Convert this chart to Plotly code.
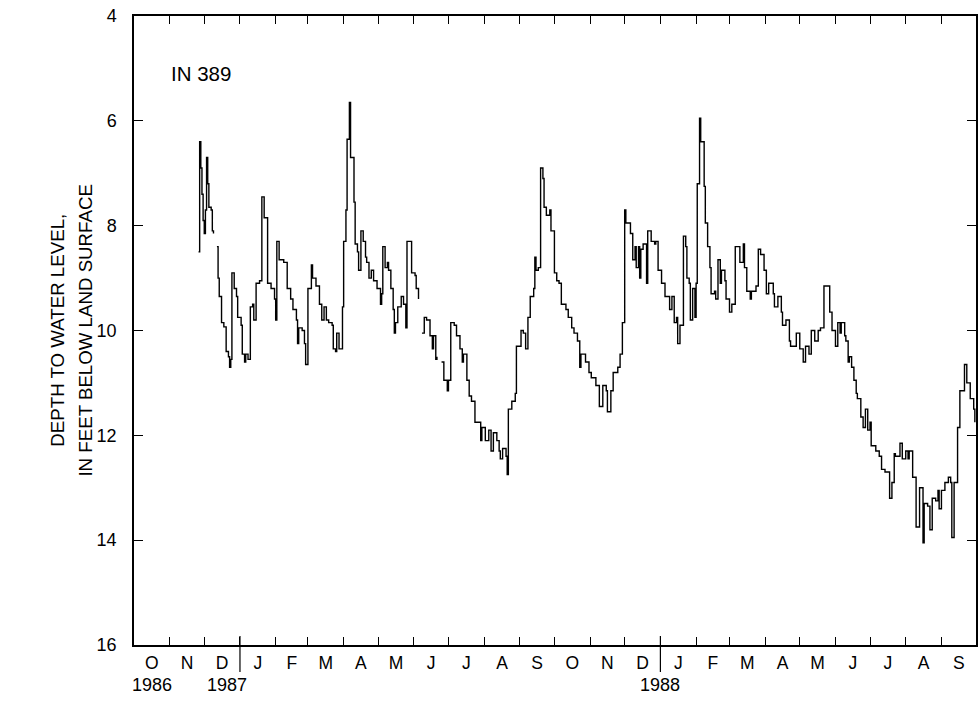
import pandas as pd
import plotly.graph_objects as go

obs_dates = [
    "1986-11-26", "1986-11-27", "1986-11-28", "1986-11-29", "1986-11-30",
    "1986-12-01", "1986-12-02", "1986-12-03", "1986-12-04", "1986-12-05",
    "1986-12-07", "1986-12-08", "1986-12-09", "1986-12-10",
    "1986-12-12", "1986-12-13", "1986-12-14", "1986-12-16", "1986-12-18",
    "1986-12-20", "1986-12-22", "1986-12-23", "1986-12-24", "1986-12-25",
    "1986-12-27", "1986-12-29", "1986-12-30",
    "1987-01-02", "1987-01-03", "1987-01-05", "1987-01-06", "1987-01-08",
    "1987-01-10", "1987-01-12", "1987-01-13", "1987-01-15", "1987-01-18",
    "1987-01-20", "1987-01-22", "1987-01-25", "1987-01-28", "1987-01-31",
    "1987-02-01", "1987-02-02", "1987-02-04", "1987-02-08", "1987-02-11",
    "1987-02-14", "1987-02-16", "1987-02-19", "1987-02-20", "1987-02-21",
    "1987-02-24", "1987-02-26", "1987-02-27",
    "1987-03-01", "1987-03-04", "1987-03-05", "1987-03-08", "1987-03-11",
    "1987-03-13", "1987-03-15", "1987-03-17", "1987-03-19", "1987-03-22",
    "1987-03-23", "1987-03-25", "1987-03-26", "1987-03-28", "1987-03-31",
    "1987-04-01", "1987-04-03", "1987-04-04", "1987-04-06", "1987-04-07",
    "1987-04-10", "1987-04-11", "1987-04-13", "1987-04-14", "1987-04-16",
    "1987-04-18", "1987-04-20", "1987-04-21", "1987-04-23", "1987-04-25",
    "1987-04-27", "1987-04-30",
    "1987-05-03", "1987-05-04", "1987-05-05", "1987-05-07", "1987-05-09",
    "1987-05-10", "1987-05-12", "1987-05-14", "1987-05-15", "1987-05-16",
    "1987-05-18", "1987-05-21", "1987-05-23", "1987-05-25", "1987-05-26",
    "1987-05-29", "1987-05-30",
    "1987-06-02", "1987-06-03", "1987-06-05", "1987-06-06",
    "1987-06-08", "1987-06-10", "1987-06-12", "1987-06-15", "1987-06-17",
    "1987-06-18", "1987-06-20", "1987-06-21", "1987-06-22",
    "1987-06-25", "1987-06-27", "1987-06-30",
    "1987-07-01", "1987-07-03", "1987-07-06", "1987-07-08", "1987-07-11",
    "1987-07-13", "1987-07-14", "1987-07-17", "1987-07-19", "1987-07-21",
    "1987-07-24", "1987-07-27", "1987-07-29", "1987-07-30",
    "1987-08-02", "1987-08-05", "1987-08-07", "1987-08-09", "1987-08-12",
    "1987-08-14", "1987-08-15", "1987-08-17", "1987-08-20", "1987-08-21",
    "1987-08-22", "1987-08-25", "1987-08-28", "1987-08-29",
    "1987-09-02", "1987-09-04", "1987-09-06", "1987-09-08", "1987-09-10",
    "1987-09-13", "1987-09-14", "1987-09-15", "1987-09-17", "1987-09-19",
    "1987-09-21", "1987-09-22", "1987-09-24", "1987-09-27", "1987-09-28",
    "1987-10-01", "1987-10-03", "1987-10-05", "1987-10-07", "1987-10-11",
    "1987-10-13", "1987-10-16", "1987-10-18", "1987-10-21", "1987-10-23",
    "1987-10-24", "1987-10-28", "1987-10-31",
    "1987-11-02", "1987-11-06", "1987-11-09", "1987-11-12", "1987-11-15",
    "1987-11-16", "1987-11-19", "1987-11-21", "1987-11-25", "1987-11-27",
    "1987-11-29",
    "1987-12-01", "1987-12-02", "1987-12-06", "1987-12-08", "1987-12-10",
    "1987-12-11", "1987-12-13", "1987-12-14", "1987-12-15", "1987-12-17",
    "1987-12-20", "1987-12-21", "1987-12-24", "1987-12-27", "1987-12-28",
    "1987-12-30",
    "1988-01-02", "1988-01-05", "1988-01-09", "1988-01-11", "1988-01-13",
    "1988-01-15", "1988-01-16", "1988-01-18", "1988-01-21", "1988-01-23",
    "1988-01-24", "1988-01-26", "1988-01-27", "1988-01-29", "1988-01-31",
    "1988-02-01", "1988-02-02", "1988-02-04", "1988-02-05", "1988-02-08",
    "1988-02-09", "1988-02-11", "1988-02-13", "1988-02-14", "1988-02-17",
    "1988-02-18", "1988-02-20", "1988-02-22", "1988-02-23", "1988-02-26",
    "1988-02-27",
    "1988-03-01", "1988-03-03", "1988-03-06", "1988-03-08", "1988-03-10",
    "1988-03-13", "1988-03-14", "1988-03-16", "1988-03-19", "1988-03-20",
    "1988-03-24", "1988-03-26", "1988-03-28", "1988-03-31",
    "1988-04-02", "1988-04-04", "1988-04-08", "1988-04-09", "1988-04-12",
    "1988-04-15", "1988-04-16", "1988-04-19", "1988-04-22", "1988-04-23",
    "1988-04-28",
    "1988-05-01", "1988-05-04", "1988-05-06", "1988-05-09", "1988-05-11",
    "1988-05-14", "1988-05-17", "1988-05-19", "1988-05-22", "1988-05-25",
    "1988-05-27", "1988-05-29",
    "1988-06-01", "1988-06-03", "1988-06-05", "1988-06-06", "1988-06-09",
    "1988-06-10", "1988-06-12", "1988-06-13", "1988-06-15", "1988-06-17",
    "1988-06-19", "1988-06-20", "1988-06-23", "1988-06-25", "1988-06-27",
    "1988-06-29",
    "1988-07-01", "1988-07-02", "1988-07-06", "1988-07-09", "1988-07-11",
    "1988-07-14", "1988-07-18", "1988-07-20", "1988-07-22", "1988-07-23",
    "1988-07-27", "1988-07-29",
    "1988-08-01", "1988-08-03", "1988-08-04", "1988-08-07", "1988-08-09",
    "1988-08-10", "1988-08-13", "1988-08-16", "1988-08-17", "1988-08-20",
    "1988-08-22", "1988-08-24", "1988-08-27", "1988-08-29", "1988-08-30",
    "1988-09-01", "1988-09-04", "1988-09-07", "1988-09-09", "1988-09-10",
    "1988-09-12", "1988-09-15", "1988-09-17", "1988-09-21", "1988-09-23",
    "1988-09-26", "1988-09-29", "1988-09-30",
]

depth_ft = [
    8.5, 6.4, 6.9, 7.4, 7.9,
    8.15, 7.7, 6.7, 7.2, 7.65,
    7.7, 8.1, 8.15, None,
    8.4, 9.0, 9.35, 9.85, 9.93,
    10.4, 10.5, 10.7, 10.55, 8.9,
    9.2, 9.35, 9.75,
    9.9, 10.45, 10.6, 10.45, 10.55,
    9.55, 9.5, 9.8, 9.1, 9.05,
    7.45, 7.85, 9.1, 9.2, 9.4,
    9.8, 8.3, 8.65, 8.7, 9.2,
    9.4, 9.6, 9.8, 10.25, 9.95,
    10.0, 10.25, 10.65,
    9.2, 8.75, 9.0, 9.15, 9.5,
    9.8, 9.55, 9.8, 9.85, 9.9,
    10.35, 10.4, 10.05, 10.35, 9.55,
    8.3, 7.7, 6.35, 5.65, 6.7,
    7.55, 8.35, 8.5, 8.85, 8.1,
    8.3, 8.6, 8.7, 9.0, 8.85,
    9.05, 9.2,
    9.5, 9.3, 8.4, 8.8, 8.7,
    8.85, 9.2, 9.6, 10.05, 9.85,
    9.55, 9.35, 9.5, 9.95, 8.3,
    8.3, 8.9,
    8.95, 9.2, 9.4, None,
    10.05, 9.75, 9.8, 10.1, 10.35,
    10.1, 10.55, 10.5, None,
    10.6, 10.95, 11.15,
    10.95, 9.85, 9.9, 10.1, 10.35,
    10.6, 10.45, 10.95, 11.25, 11.35,
    11.75, 11.75, 12.1, 11.85,
    12.1, 11.9, 12.3, 11.95, 12.1,
    12.3, 12.45, 12.25, 12.4, 12.75,
    11.5, 11.35, 11.2, 10.3,
    10.0, 10.05, 10.35, 9.75, 9.35,
    9.2, 8.6, 8.85, 8.8, 6.9,
    7.1, 7.65, 7.8, 7.7, 8.1,
    8.9, 9.05, 9.1, 9.5, 9.6,
    9.75, 9.95, 10.05, 10.2, 10.7,
    10.45, 10.6, 10.8,
    10.9, 11.05, 11.45, 11.05, 11.15,
    11.55, 11.15, 10.8, 10.7, 10.45,
    9.85,
    7.7, 7.95, 8.15, 8.65, 8.4,
    8.8, 8.4, 9.0, 8.45, 8.35,
    9.1, 8.1, 8.3, 8.35, 8.3,
    8.85,
    9.1, 9.35, 9.6, 9.35, 9.85,
    9.75, 10.25, 9.9, 8.2, 8.4,
    9.0, 9.1, 9.8, 9.2, 9.75,
    9.1, 7.2, 5.95, 6.4, 7.25,
    7.95, 8.4, 8.8, 9.3, 9.25,
    9.4, 8.65, 9.1, 8.85, 9.05,
    9.4,
    9.65, 9.5, 8.4, 8.4, 8.7,
    8.35, 8.8, 9.25, 9.4, 9.25,
    9.15, 8.45, 8.55, 8.85,
    9.3, 9.1, 9.3, 9.55, 9.35,
    9.65, 9.9, 9.8, 10.2, 10.3,
    10.05,
    10.35, 10.6, 10.3, 10.45, 10.0,
    10.2, 10.0, 9.95, 9.15, 9.15,
    9.65, 10.0,
    10.3, 9.85, 10.05, 9.85, 10.1,
    10.2, 10.6, 10.5, 10.7, 10.95,
    11.2, 11.3, 11.65, 11.85, 11.5,
    11.9,
    11.75, 12.2, 12.3, 12.4, 12.65,
    12.7, 13.2, 12.9, 12.35, 12.4,
    12.15, 12.45,
    12.3, 12.45, 12.3, 12.8, 12.8,
    13.75, 13.0, 14.05, 13.3, 13.35,
    13.8, 13.2, 13.25, 13.05, 13.4,
    13.05, 12.9, 12.8, 12.9, 13.95,
    12.9, 11.85, 11.15, 10.65, 11.0,
    11.3, 11.5, 11.75,
]

well_label = "IN 389"
y_tick_values = [4, 6, 8, 10, 12, 14, 16]
month_letters = ["O", "N", "D", "J", "F", "M", "A", "M", "J", "J", "A", "S"] * 2
year_labels = ["1986", "1987", "1988"]
year_label_dates = ["1986-10-17", "1986-12-21", "1988-01-01"]
year_break_dates = ["1987-01-01", "1988-01-01"]
x_start, x_end = "1986-10-01", "1988-10-01"

# ---------------- derived tick positions ----------------
month_starts = pd.date_range(x_start, x_end, freq="MS")
month_mids = [a + (b - a) / 2 for a, b in zip(month_starts[:-1], month_starts[1:])]

FONT = "Liberation Sans, Arial, Helvetica, sans-serif"

fig = go.Figure()
fig.add_trace(go.Scatter(
    x=pd.to_datetime(obs_dates), y=depth_ft, mode="lines",
    line=dict(color="black", width=1.4, shape="hv"),
    connectgaps=False, showlegend=False, hoverinfo="skip",
))
# helper trace so the label axis is rendered
fig.add_trace(go.Scatter(
    x=[pd.Timestamp(x_start)], y=[None], xaxis="x2", mode="lines",
    showlegend=False, hoverinfo="skip",
))

fig.update_layout(
    width=979, height=705,
    margin=dict(l=134, r=1, t=16, b=60),
    paper_bgcolor="white", plot_bgcolor="white",
    font=dict(family=FONT, color="black", size=17),
    xaxis=dict(
        type="date", range=[x_start, x_end],
        tickvals=list(month_starts), ticks="inside", ticklen=8, tickwidth=1.2,
        tickcolor="black", showticklabels=False,
        showline=True, linecolor="black", linewidth=1.5, mirror="ticks",
        showgrid=False, zeroline=False,
    ),
    xaxis2=dict(
        type="date", overlaying="x", matches="x", anchor="y", side="bottom",
        tickvals=month_mids, ticktext=month_letters, ticks="",
        showline=False, showgrid=False, zeroline=False,
        tickfont=dict(size=17.5), ticklabelstandoff=5,
        ticklabeloverflow="allow",
    ),
    yaxis=dict(
        range=[16, 4], tickvals=y_tick_values, ticks="inside", ticklen=9,
        tickwidth=1.2, tickcolor="black",
        showline=True, linecolor="black", linewidth=1.5, mirror="ticks",
        showgrid=False, zeroline=False,
        tickfont=dict(size=18), ticklabelstandoff=12,
        ticklabeloverflow="allow",
    ),
)

# year boundary marks extending through the month-label row
for d in year_break_dates:
    fig.add_shape(type="line", xref="x", yref="paper", x0=d, x1=d,
                  y0=-0.043, y1=0.0143, line=dict(color="black", width=1.2))

for lab, d in zip(year_labels, year_label_dates):
    fig.add_annotation(x=d, y=-0.0636, xref="x", yref="paper", text=lab,
                       showarrow=False, xanchor="center", yanchor="middle",
                       font=dict(size=18))

fig.add_annotation(x="1986-10-31", y=5.09, xref="x", yref="y", text=well_label,
                   showarrow=False, xanchor="left", yanchor="middle",
                   font=dict(size=20.5))

fig.add_annotation(x=-0.0912, y=0.5, xref="paper", yref="paper",
                   text="DEPTH TO WATER LEVEL,", textangle=-90, showarrow=False,
                   xanchor="center", yanchor="middle", font=dict(size=18.7))
fig.add_annotation(x=-0.0581, y=0.5, xref="paper", yref="paper",
                   text="IN FEET BELOW LAND SURFACE", textangle=-90, showarrow=False,
                   xanchor="center", yanchor="middle", font=dict(size=18.7))

# remove the browser's default 8px page margin so the figure fills the window
fig.write_html("out.html", config={"displayModeBar": False},
               post_script="document.body.style.margin='0';")
